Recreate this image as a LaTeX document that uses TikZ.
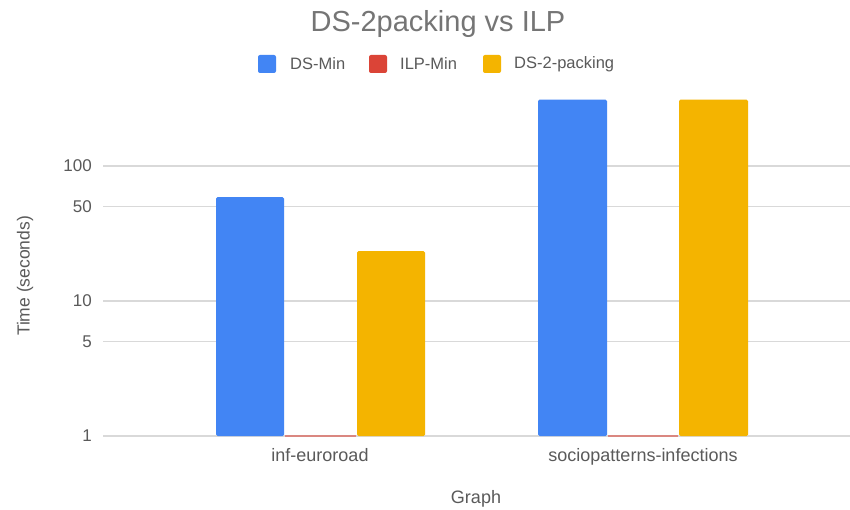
\documentclass[tikz,border=0pt]{standalone}
\usepackage{fontspec}
\setmainfont{Liberation Sans}

\definecolor{dsblue}{HTML}{4285F4}
\definecolor{ilpred}{HTML}{DB4437}
\definecolor{packyellow}{HTML}{F4B400}
\definecolor{gridgray}{HTML}{D9D9D9}
\definecolor{labelgray}{HTML}{5A5A5A}
\definecolor{titlegray}{HTML}{757575}

\begin{document}
\begin{tikzpicture}[x=1pt,y=-1pt,
  gridline/.style={draw=gridgray,line width=1.3pt},
  bar/.style={rounded corners=1.5pt},
  ticklabel/.style={anchor=east,inner sep=0pt,text=labelgray,font=\fontsize{17}{17}\selectfont},
  catlabel/.style={anchor=base,inner sep=0pt,text=labelgray,font=\fontsize{18}{18}\selectfont},
  axistitle/.style={inner sep=0pt,text=labelgray,font=\fontsize{17.5}{17.5}\selectfont},
  legendkey/.style={rounded corners=2pt},
  legendtext/.style={anchor=west,inner sep=0pt,text=labelgray,font=\fontsize{16.5}{16.5}\selectfont},
  charttitle/.style={anchor=base,inner sep=0pt,text=titlegray,font=\fontsize{29}{29}\selectfont}]

\useasboundingbox (0,0) rectangle (850,510);
\fill[white] (0,0) rectangle (850,510);

% log10 scale: value 1 sits at y=436, one decade spans 135
\def\ybase{436}
\def\decade{135}
\newcommand{\logy}[2]{\pgfmathsetmacro#1{\ybase-\decade*log10(#2)}}

% gridlines and tick labels
\foreach \v/\lab in {1/1,5/5,10/10,50/50,100/100}{
  \logy{\yy}{\v}
  \draw[gridline] (103,\yy) -- (850,\yy);
  \node[ticklabel] (tick\lab) at (92,\yy) {\lab};
}

% bars: inf-euroroad
\logy{\ya}{58.9}
\fill[dsblue,bar] (216,\ybase) rectangle (284,\ya);
\logy{\yb}{23.4}
\fill[packyellow,bar] (357,\ybase) rectangle (425,\yb);
% bars: sociopatterns-infections
\logy{\yc}{310}
\fill[dsblue,bar] (538,\ybase) rectangle (607,\yc);
\fill[packyellow,bar] (679,\ybase) rectangle (748,\yc);

% ILP-Min values are far below 1 s, drawn as a hairline on the axis
\draw[ilpred!55!gridgray,line width=1.3pt] (285,\ybase) -- (356,\ybase);
\draw[ilpred!55!gridgray,line width=1.3pt] (608,\ybase) -- (678,\ybase);

% category labels
\node[catlabel] (cat1) at (320,461) {inf-euroroad};
\node[catlabel] (cat2) at (643,461) {sociopatterns-infections};

% axis titles
\node[catlabel] (xtitle) at (476,503) {Graph};
\node[axistitle,rotate=90] (ytitle) at (25,276) {Time (seconds)};

% chart title
\node[charttitle] (title) at (438,32) {DS-2packing vs ILP};

% legend
\fill[dsblue,legendkey] (258,55) rectangle (276,73);
\node[legendtext] (legA) at (290,64) {DS-Min};
\fill[ilpred,legendkey] (369,55) rectangle (387,73);
\node[legendtext] (legB) at (400,64) {ILP-Min};
\fill[packyellow,legendkey] (483,55) rectangle (501,73);
\node[legendtext] (legC) at (514,64) {DS-2-packing};

\end{tikzpicture}
\end{document}
